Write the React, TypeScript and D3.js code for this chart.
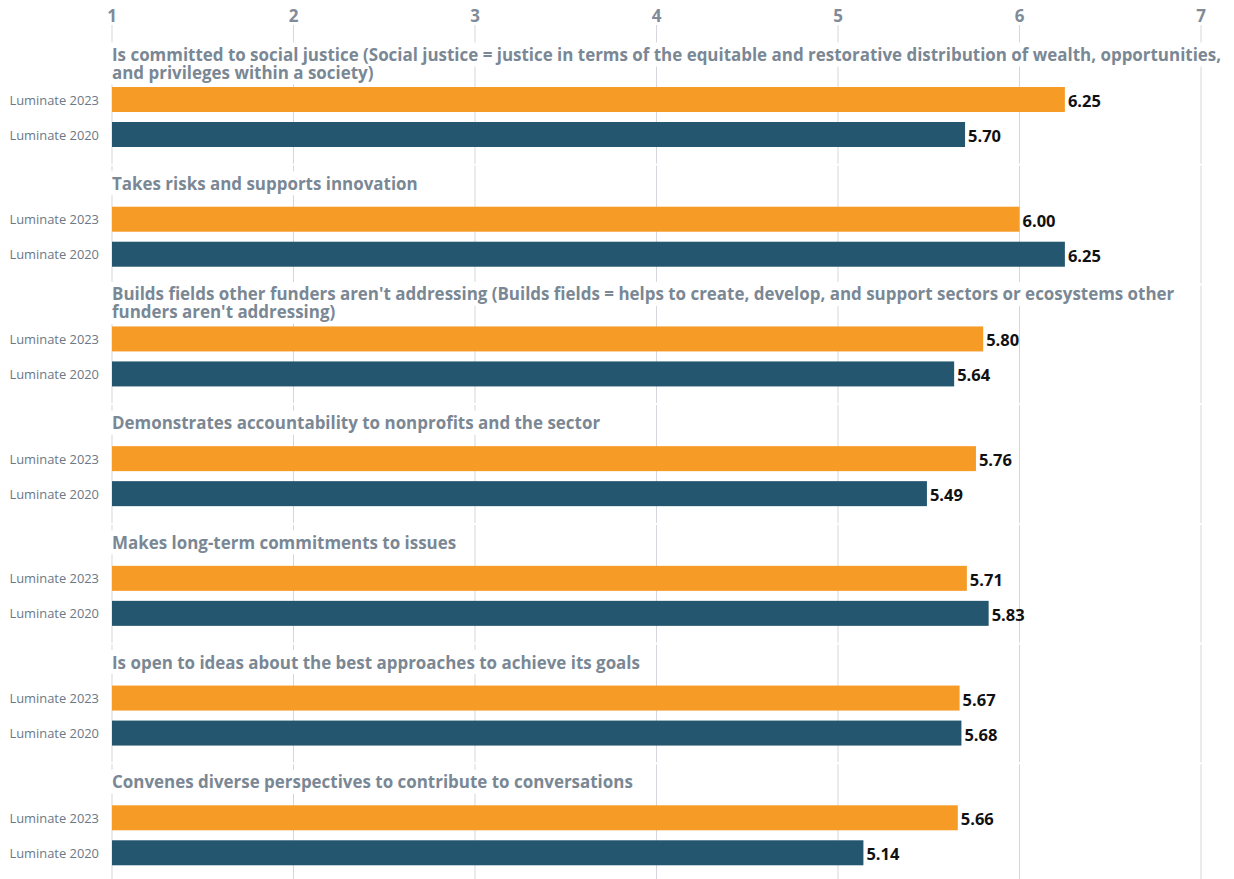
import React, { useEffect, useRef } from "react";
import * as d3 from "d3";

const categories: string[][] = [
  ["Is committed to social justice (Social justice = justice in terms of the equitable and restorative distribution of wealth, opportunities,", "and privileges within a society)"],
  ["Takes risks and supports innovation"],
  ["Builds fields other funders aren't addressing (Builds fields = helps to create, develop, and support sectors or ecosystems other", "funders aren't addressing)"],
  ["Demonstrates accountability to nonprofits and the sector"],
  ["Makes long-term commitments to issues"],
  ["Is open to ideas about the best approaches to achieve its goals"],
  ["Convenes diverse perspectives to contribute to conversations"],
];
const seriesNames = ["Luminate 2023", "Luminate 2020"];
const values2023 = [6.25, 6.0, 5.8, 5.76, 5.71, 5.67, 5.66];
const values2020 = [5.7, 6.25, 5.64, 5.49, 5.83, 5.68, 5.14];
const tickValues = [1, 2, 3, 4, 5, 6, 7];
const colors = ["#F79B27", "#24566F"];

const W = 1234;
const H = 879;
const FONT = "'Open Sans', 'Noto Sans', sans-serif";

export default function App() {
  const ref = useRef<SVGSVGElement>(null);
  useEffect(() => {
    const svg = d3.select(ref.current);
    svg.selectAll("*").remove();

    const x = d3.scaleLinear().domain([1, 7]).range([112, 1201]);
    const idx = categories.map((_, i) => String(i));
    const gy = d3.scaleBand().domain(idx).range([45, 883]).padding(0);
    const sy = d3.scaleBand().domain(seriesNames).range([42, 102]).paddingInner(10 / 35).paddingOuter(0);
    const series = [values2023, values2020];

    const grid = svg.append("g");
    idx.forEach((k, i) => {
      const y0 = i === 0 ? 25 : (gy(k) as number) + 1;
      const y1 = Math.min(H, (gy(k) as number) + gy.bandwidth() - 1);
      tickValues.forEach((t) => {
        grid.append("line")
          .attr("x1", x(t)).attr("x2", x(t))
          .attr("y1", y0).attr("y2", y1)
          .attr("stroke", "#d3d7dc").attr("stroke-width", 1);
      });
    });

    svg.append("g").selectAll("text").data(tickValues).join("text")
      .attr("x", (d) => x(d)).attr("y", 15)
      .attr("text-anchor", "middle").attr("dominant-baseline", "central")
      .attr("font-family", FONT).attr("font-weight", 700).attr("font-size", 17)
      .attr("fill", "#7f8b98").text((d) => String(d));

    idx.forEach((k, i) => {
      const g = svg.append("g").attr("transform", `translate(0,${gy(k)})`);
      const lines = categories[i];
      const n = lines.length;
      const firstCenter = 42 - 23.5 - (n - 1) * 9;
      const bg = g.append("g");
      const fg = g.append("g");
      lines.forEach((ln, j) => {
        const cy = firstCenter + j * 18;
        const rect = bg.append("rect").attr("fill", "#fff");
        const t = fg.append("text")
          .attr("x", 112).attr("y", cy)
          .attr("dominant-baseline", "central")
          .attr("font-family", FONT).attr("font-weight", 700).attr("font-size", 16.95)
          .attr("fill", "#7a8794").text(ln);
        const len = (t.node() as SVGTextElement).getComputedTextLength();
        rect.attr("x", 110).attr("width", len + 4).attr("y", cy - 12).attr("height", 24);
      });

      seriesNames.forEach((s, si) => {
        const v = series[si][i];
        const by = sy(s) as number;
        g.append("rect")
          .attr("x", x(1)).attr("y", by)
          .attr("width", x(v) - x(1)).attr("height", sy.bandwidth())
          .attr("fill", colors[si]);
        g.append("text")
          .attr("x", 99).attr("y", by + sy.bandwidth() / 2)
          .attr("text-anchor", "end").attr("dominant-baseline", "central")
          .attr("font-family", FONT).attr("font-size", 12.9)
          .attr("fill", "#6b7886").text(s);
        g.append("text")
          .attr("x", x(v) + 3).attr("y", by + sy.bandwidth() / 2 + 1)
          .attr("dominant-baseline", "central")
          .attr("font-family", FONT).attr("font-weight", 700).attr("font-size", 16.5)
          .attr("fill", "#111").text(v.toFixed(2));
      });
    });
  }, []);

  return (
    <svg ref={ref} width={W} height={H}
      style={{ position: "absolute", left: 0, top: 0, background: "#fff" }} />
  );
}
